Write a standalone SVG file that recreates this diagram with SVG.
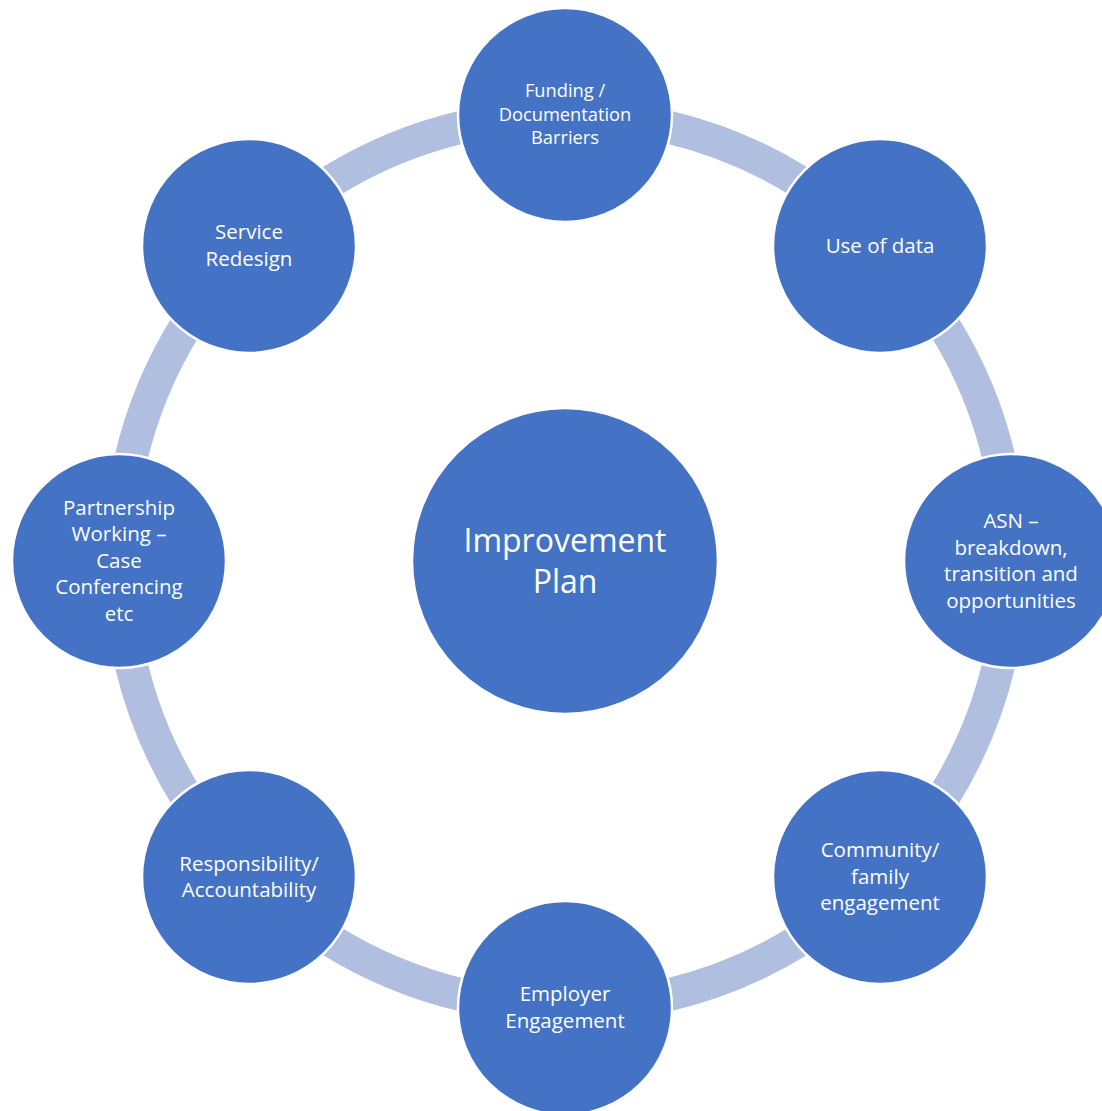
<svg xmlns="http://www.w3.org/2000/svg" width="1102" height="1111" viewBox="0 0 1102 1111">
<style>
.band{fill:none;stroke:#B0BEE0;stroke-width:33;stroke-linecap:butt}
.node{fill:#4472C4;stroke:#FFFFFF;stroke-width:2.5}
.t{fill:#FFFFFF;font-family:"Open Sans","Noto Sans",sans-serif;font-size:20.5px;text-anchor:middle}
.s{font-size:18.3px}
.c{font-size:32px}
</style>
<rect width="1102" height="1111" fill="#FFFFFF"/>
<g id="connectors">
<path class="band" d="M666.85,126.78 A446,446 0 0 1 800.02,181.95"/>
<path class="band" d="M944.05,325.98 A446,446 0 0 1 999.22,459.16"/>
<path class="band" d="M999.22,662.84 A446,446 0 0 1 944.05,796.02"/>
<path class="band" d="M800.02,940.05 A446,446 0 0 1 666.85,995.22"/>
<path class="band" d="M463.15,995.22 A446,446 0 0 1 329.98,940.05"/>
<path class="band" d="M185.95,796.02 A446,446 0 0 1 130.78,662.84"/>
<path class="band" d="M130.78,459.16 A446,446 0 0 1 185.95,325.98"/>
<path class="band" d="M329.98,181.95 A446,446 0 0 1 463.15,126.78"/>
</g>
<g id="center">
<circle class="node" cx="565" cy="561" r="153"/>
<text class="t c"><tspan x="565" y="552">Improvement</tspan><tspan x="565" y="593">Plan</tspan></text>
</g>
<g id="funding">
<circle class="node" cx="565" cy="115" r="107"/>
<text class="t s"><tspan x="565" y="97">Funding /</tspan><tspan x="565" y="121">Documentation</tspan><tspan x="565" y="144">Barriers</tspan></text>
</g>
<g id="data">
<circle class="node" cx="880" cy="246" r="107"/>
<text class="t"><tspan x="880" y="253">Use of data</tspan></text>
</g>
<g id="asn">
<circle class="node" cx="1011" cy="561" r="107"/>
<text class="t"><tspan x="1011" y="528">ASN –</tspan><tspan x="1011" y="555">breakdown,</tspan><tspan x="1011" y="581">transition and</tspan><tspan x="1011" y="608">opportunities</tspan></text>
</g>
<g id="community">
<circle class="node" cx="880" cy="877" r="107"/>
<text class="t"><tspan x="880" y="857">Community/</tspan><tspan x="880" y="884">family</tspan><tspan x="880" y="910">engagement</tspan></text>
</g>
<g id="employer">
<circle class="node" cx="565" cy="1008" r="107"/>
<text class="t"><tspan x="565" y="1001">Employer</tspan><tspan x="565" y="1028">Engagement</tspan></text>
</g>
<g id="responsibility">
<circle class="node" cx="249" cy="877" r="107"/>
<text class="t"><tspan x="249" y="871">Responsibility/</tspan><tspan x="249" y="897">Accountability</tspan></text>
</g>
<g id="partnership">
<circle class="node" cx="119" cy="561" r="107"/>
<text class="t"><tspan x="119" y="515">Partnership</tspan><tspan x="119" y="541">Working –</tspan><tspan x="119" y="568">Case</tspan><tspan x="119" y="594">Conferencing</tspan><tspan x="119" y="621">etc</tspan></text>
</g>
<g id="service">
<circle class="node" cx="249" cy="246" r="107"/>
<text class="t"><tspan x="249" y="239">Service</tspan><tspan x="249" y="266">Redesign</tspan></text>
</g>
</svg>
